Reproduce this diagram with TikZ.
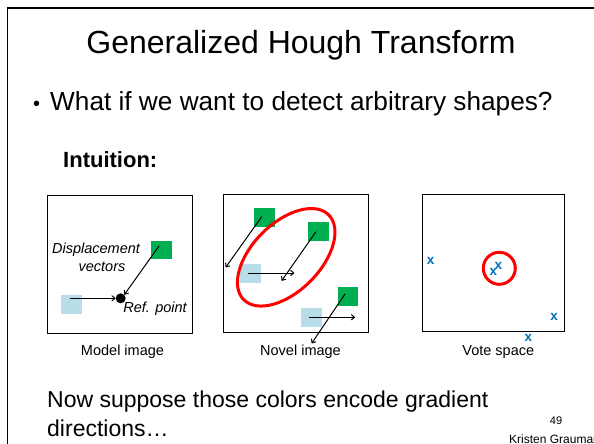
\documentclass[tikz,border=0pt]{standalone}
\usepackage{fontspec}
\setmainfont{Liberation Sans}
\usetikzlibrary{arrows.meta}
\definecolor{gsq}{RGB}{0,176,80}
\definecolor{bsq}{RGB}{183,221,232}
\definecolor{vblue}{RGB}{0,112,192}
\definecolor{vred}{RGB}{255,0,0}
\begin{document}
\begin{tikzpicture}[x=1pt,y=-1pt,
  frame/.style={draw=black,line width=1.2pt},
  greensq/.style={fill=gsq,minimum width=20.7pt,minimum height=18.5pt,inner sep=0pt},
  bluesq/.style={fill=bsq,minimum width=20.7pt,minimum height=19pt,inner sep=0pt},
  vec/.style={draw=black,line width=1pt,-{To[length=4pt,width=6pt]}},
  caption/.style={font=\fontsize{14.5}{16}\selectfont,inner sep=0pt},
  itlabel/.style={font=\fontsize{14.5}{17}\selectfont\itshape,inner sep=0pt},
  vote/.style={text=vblue,font=\fontsize{13.5}{13}\selectfont\bfseries,inner sep=0pt},
  redring/.style={draw=vred,line width=3pt},
  body/.style={font=\fontsize{23}{26}\selectfont,inner sep=0pt,anchor=west}
]
\useasboundingbox (0,0) rectangle (594,444);
\fill[white] (0,0) rectangle (594,444);
% slide frame
\coordinate (fbl) at (7.5,444);
\coordinate (ftl) at (7.5,8);
\coordinate (ftr) at (594,8);
\draw[frame] (fbl) -- (ftl) -- (ftr);

% title and text
\node[inner sep=0pt,font=\fontsize{32}{36}\selectfont] (title) at (301,45) {Generalized Hough Transform};
\node[body,font=\fontsize{26}{30}\selectfont] (bullet) at (33,104) {\fontsize{20}{26}\selectfont\textbullet\hspace{10pt}\fontsize{26.2}{30}\selectfont What if we want to detect arbitrary shapes?};
\node[body,font=\fontsize{22}{26}\selectfont\bfseries] (intu) at (63,160) {Intuition:};
\node[body] (now1) at (47,402) {Now suppose those colors encode gradient};
\node[body] (now2) at (47,428) {directions\dots};
\node[inner sep=0pt,font=\fontsize{11}{12}\selectfont] (pnum) at (556,421) {49};
\node[inner sep=0pt,font=\fontsize{12}{13}\selectfont,anchor=west] (auth) at (509,439) {Kristen Grauman};

% ---------- Model image ----------
\node[draw=black,line width=1pt,minimum width=145pt,minimum height=138pt,inner sep=0pt,anchor=north west] (mbox) at (46.5,195) {};
\node[greensq] (mg) at (161.3,250) {};
\node[bluesq] (mb) at (71.3,304) {};
\node[circle,fill=black,minimum size=10pt,inner sep=0pt] (ref) at (120.7,298.3) {};
\coordinate (mbs) at (70,298.3);
\coordinate (mgs) at (159,246);
\draw[vec] (mbs) -- (ref.west);
\draw[vec] (mgs) -- (ref.north east);
\node[itlabel] (disp) at (96,250) {Displacement};
\node[itlabel] (vecs) at (102,267) {vectors};
\node[itlabel] (refl) at (155,308.5) {Ref. point};
\node[caption] (mcap) at (122.5,352) {Model image};

% ---------- Novel image ----------
\node[draw=black,line width=1pt,minimum width=144.5pt,minimum height=138pt,inner sep=0pt,anchor=north west] (nbox) at (223.3,194) {};
\node[greensq] (ng1) at (264.6,217.5) {};
\node[greensq] (ng2) at (318.6,231.6) {};
\node[greensq] (ng3) at (348,296.6) {};
\node[bluesq] (nb1) at (250.3,273) {};
\node[bluesq] (nb2) at (311.3,317.2) {};
\coordinate (n1s) at (261.7,216.7);
\coordinate (n1e) at (225.7,267.3);
\coordinate (n2s) at (316,231.7);
\coordinate (n2e) at (281.7,280.7);
\coordinate (n3s) at (248.3,273);
\coordinate (n3e) at (294.3,273);
\coordinate (n4s) at (345,294);
\coordinate (n4e) at (311.7,343.3);
\coordinate (n5s) at (309.3,317.3);
\coordinate (n5e) at (355,317.3);
\draw[vec] (n1s) -- (n1e);
\draw[vec] (n2s) -- (n2e);
\draw[vec] (n3s) -- (n3e);
\draw[vec] (n4s) -- (n4e);
\draw[vec] (n5s) -- (n5e);
\coordinate (ellc) at (286.2,257.3);
\draw[redring,rotate around={45:(ellc)}] (ellc) ellipse [x radius=60pt, y radius=34pt];
\node[caption] (ncap) at (300.5,352) {Novel image};

% ---------- Vote space ----------
\node[draw=black,line width=1pt,minimum width=142pt,minimum height=137pt,inner sep=0pt,anchor=north west] (vbox) at (422.3,194) {};
\node[circle,redring,minimum size=32pt,inner sep=0pt] (vring) at (499.3,268.3) {};
\node[vote] (x1) at (430.7,260.7) {x};
\node[vote] (x2) at (498.3,265.5) {x};
\node[vote] (x3) at (493.3,271.5) {x};
\node[vote] (x4) at (554,316.5) {x};
\node[vote] (x5) at (528.3,337.5) {x};
\node[caption] (vcap) at (498.3,352) {Vote space};
\end{tikzpicture}
\end{document}
